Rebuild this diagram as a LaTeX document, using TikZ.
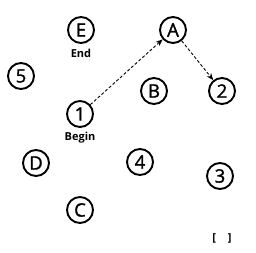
\documentclass[tikz,border=0pt]{standalone}
\usepackage{fontspec}
\setmainfont{Open Sans}
\newfontfamily\circfont[FakeBold=1.5]{Open Sans}
\usetikzlibrary{arrows.meta}
\begin{document}
\begin{tikzpicture}[x=1pt,y=-1pt,
  state/.style={circle,draw,line width=1.9pt,minimum size=26pt,inner sep=0pt,font=\circfont\fontsize{18.5}{18.5}\selectfont},
  lbl/.style={font=\bfseries\fontsize{11}{11}\selectfont,inner sep=0pt},
  trans/.style={dash pattern=on 3pt off 2pt,line width=0.9pt,-{Stealth[length=7pt,width=5.5pt]}}]
\useasboundingbox (0,0) rectangle (256,252);
\node[state] (E) at (81,30) {E};
\node[lbl] (Elbl) at (81,53) {End};
\node[state] (A) at (173,30) {A};
\node[state] (n5) at (21,76) {5};
\node[state] (B) at (154,91) {B};
\node[state] (n2) at (222,91) {2};
\node[state] (n1) at (80,114) {1};
\node[lbl] (n1lbl) at (80,138) {Begin};
\node[state] (D) at (36,163) {D};
\node[state] (n4) at (140,162) {4};
\node[state] (n3) at (220,176) {3};
\node[state] (C) at (80,210) {C};
\node[font=\bfseries\fontsize{11}{11}\selectfont,inner sep=0pt] (brk) at (222,238) {[\hspace{12pt}]};
\draw[trans] (n1) -- (A);
\draw[trans] (A) -- (n2);
\end{tikzpicture}
\end{document}
